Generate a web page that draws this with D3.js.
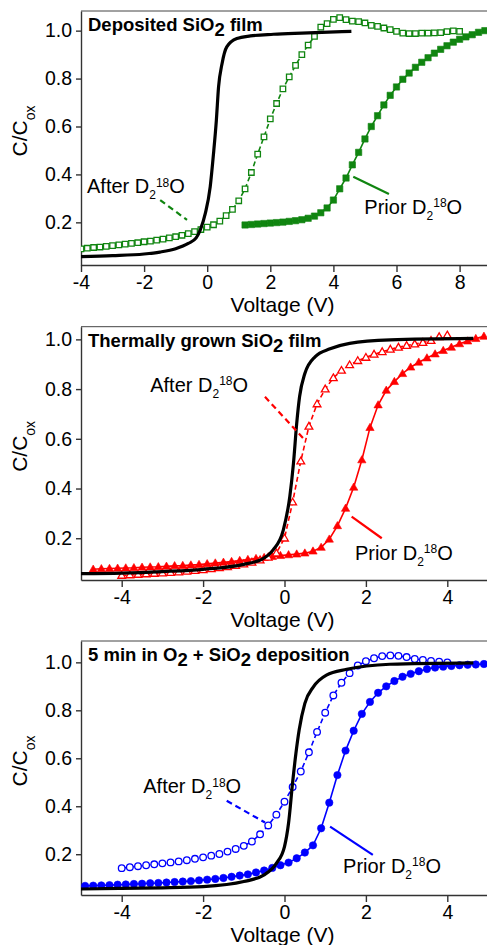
<!DOCTYPE html>
<html><head><meta charset="utf-8">
<script src="https://cdn.jsdelivr.net/npm/d3@7"></script>
<style>
body{margin:0;background:#fff;}
svg{display:block;}
text{font-family:"Liberation Sans",Arial,Helvetica,sans-serif;fill:#000;}
</style>
</head><body><svg id="c" width="487" height="945"></svg>
<script>
// ---------------- DATA ----------------
// Panel 1: Deposited SiO2 film
const xTicks1 = [-4,-2,0,2,4,6,8];
const yTicks = [0.2,0.4,0.6,0.8,1.0];
const blackV1 = [-4,-3,-2,-1.5,-1,-0.6,-0.35,-0.22,-0.06,0.095,0.2,0.29,0.36,0.47,0.62,0.94,1.37,2.1,3,4.57];
const blackC1 = [0.057,0.061,0.068,0.076,0.09,0.112,0.135,0.168,0.237,0.348,0.487,0.626,0.765,0.862,0.932,0.967,0.978,0.985,0.99,0.997];
const afterV1 = [-4,-3.8,-3.6,-3.4,-3.2,-3,-2.8,-2.6,-2.4,-2.2,-2,-1.8,-1.6,-1.4,-1.2,-1,-0.8,-0.6,-0.4,-0.2,0,0.2,0.4,0.6,0.8,1,1.2,1.4,1.6,1.8,2,2.2,2.4,2.6,2.8,3,3.2,3.4,3.6,3.8,4,4.2,4.4,4.6,4.8,5,5.2,5.4,5.6,5.8,6,6.2,6.4,6.6,6.8,7,7.2,7.4,7.6,7.8,8];
const afterC1 = [0.089,0.092,0.095,0.097,0.1,0.103,0.106,0.109,0.112,0.115,0.119,0.122,0.126,0.13,0.135,0.14,0.146,0.153,0.161,0.17,0.18,0.19,0.205,0.228,0.254,0.29,0.34,0.408,0.485,0.557,0.632,0.696,0.757,0.807,0.855,0.9,0.94,0.976,1.015,1.029,1.047,1.054,1.046,1.04,1.038,1.032,1.022,1.018,1.011,1.004,0.997,0.99,0.988,0.988,0.99,0.99,0.991,0.992,0.996,0.999,0.997];
const priorV1 = [1.2,1.4,1.6,1.8,2,2.2,2.4,2.6,2.8,3,3.2,3.4,3.6,3.8,4,4.2,4.4,4.6,4.8,5,5.2,5.4,5.6,5.8,6,6.2,6.4,6.6,6.8,7,7.2,7.4,7.6,7.8,8,8.2,8.4,8.6,8.8];
const priorC1 = [0.189,0.191,0.193,0.195,0.197,0.199,0.201,0.204,0.207,0.211,0.217,0.226,0.24,0.26,0.293,0.34,0.385,0.44,0.492,0.548,0.6,0.645,0.69,0.73,0.765,0.797,0.823,0.847,0.868,0.887,0.906,0.922,0.937,0.952,0.964,0.974,0.983,0.993,1.0];

// Panel 2: Thermally grown SiO2 film
const xTicks23 = [-4,-2,0,2,4];
const blackV2 = [-5,-4,-3,-2,-1,-0.56,-0.28,-0.03,0.13,0.22,0.3,0.37,0.5,0.75,1.12,1.6,2.6,4.64];
const blackC2 = [0.058,0.06,0.066,0.075,0.095,0.115,0.153,0.233,0.367,0.501,0.662,0.769,0.863,0.93,0.962,0.984,0.998,1.004];
const afterV2 = [-4,-3.8,-3.6,-3.4,-3.2,-3,-2.8,-2.6,-2.4,-2.2,-2,-1.8,-1.6,-1.4,-1.2,-1,-0.8,-0.6,-0.4,-0.2,0,0.2,0.4,0.6,0.8,1,1.2,1.4,1.6,1.8,2,2.2,2.4,2.6,2.8,3,3.2,3.4,3.6,3.8,4];
const afterC2 = [0.05,0.052,0.054,0.056,0.058,0.06,0.062,0.064,0.067,0.07,0.073,0.077,0.081,0.085,0.09,0.096,0.103,0.112,0.123,0.14,0.2,0.345,0.51,0.65,0.74,0.8,0.845,0.875,0.897,0.914,0.927,0.94,0.95,0.96,0.968,0.975,0.981,0.987,0.995,1.01,1.017];
const priorV2 = [-4.7,-4.5,-4.3,-4.1,-3.9,-3.7,-3.5,-3.3,-3.1,-2.9,-2.7,-2.5,-2.3,-2.1,-1.9,-1.7,-1.5,-1.3,-1.1,-0.9,-0.7,-0.5,-0.3,-0.1,0.1,0.3,0.5,0.7,0.9,1.1,1.3,1.5,1.7,1.9,2.1,2.3,2.5,2.7,2.9,3.1,3.3,3.5,3.7,3.9,4.1,4.3,4.5,4.7,4.9];
const priorC2 = [0.075,0.077,0.078,0.079,0.08,0.081,0.083,0.084,0.085,0.087,0.089,0.09,0.092,0.094,0.097,0.1,0.103,0.106,0.11,0.114,0.118,0.122,0.126,0.13,0.133,0.136,0.14,0.148,0.163,0.196,0.25,0.32,0.405,0.515,0.645,0.736,0.795,0.83,0.862,0.888,0.908,0.925,0.941,0.955,0.968,0.982,0.993,1.003,1.012];

// Panel 3: 5 min in O2 + SiO2 deposition
const blackV3 = [-5,-4,-3,-2,-1,-0.5,-0.2,0,0.1,0.2,0.28,0.36,0.5,0.71,1.03,1.53,2.59,4.64];
const blackC3 = [0.055,0.058,0.06,0.065,0.086,0.114,0.162,0.232,0.33,0.5,0.62,0.718,0.829,0.898,0.947,0.971,0.992,0.998];
const afterV3 = [-4,-3.8,-3.6,-3.4,-3.2,-3,-2.8,-2.6,-2.4,-2.2,-2,-1.8,-1.6,-1.4,-1.2,-1,-0.8,-0.6,-0.4,-0.2,0,0.2,0.4,0.6,0.8,1,1.2,1.4,1.6,1.8,2,2.2,2.4,2.6,2.8,3,3.2,3.4,3.6,3.8,4];
const afterC3 = [0.142,0.146,0.15,0.154,0.158,0.162,0.166,0.17,0.175,0.181,0.187,0.194,0.201,0.211,0.222,0.235,0.253,0.283,0.32,0.365,0.419,0.48,0.545,0.625,0.71,0.79,0.862,0.915,0.955,0.987,1.005,1.017,1.026,1.029,1.027,1.022,1.014,1.01,1.006,1.003,1.0];
const priorV3 = [-4.9,-4.7,-4.5,-4.3,-4.1,-3.9,-3.7,-3.5,-3.3,-3.1,-2.9,-2.7,-2.5,-2.3,-2.1,-1.9,-1.7,-1.5,-1.3,-1.1,-0.9,-0.7,-0.5,-0.3,-0.1,0.1,0.3,0.5,0.7,0.9,1.1,1.3,1.5,1.7,1.9,2.1,2.3,2.5,2.7,2.9,3.1,3.3,3.5,3.7,3.9,4.1,4.3,4.5,4.7,4.9];
const priorC3 = [0.068,0.069,0.07,0.071,0.073,0.074,0.076,0.077,0.079,0.08,0.082,0.084,0.086,0.088,0.091,0.094,0.097,0.101,0.106,0.111,0.116,0.124,0.132,0.143,0.154,0.165,0.183,0.207,0.237,0.308,0.415,0.53,0.632,0.715,0.785,0.835,0.873,0.9,0.922,0.94,0.952,0.963,0.972,0.978,0.982,0.985,0.988,0.99,0.991,0.993];

// Text
const titles = [
  [["Deposited SiO",0],["2",1],[" film",0]],
  [["Thermally grown SiO",0],["2",1],[" film",0]],
  [["5 min in O",0],["2",1],[" + SiO",0],["2",1],[" deposition",0]]
];
const xLabel = "Voltage (V)";
// annotation anchors in data units: [textV, textC, lineV0, lineC0, lineV1, lineC1]
const annAfter = [[-3.81,0.322,-1.49,0.293,-0.64,0.21],[-3.30,0.789,-0.48,0.769,0.50,0.595],[-3.47,0.455,-1.42,0.423,-0.48,0.332]];
const annPrior = [[4.98,0.235,4.63,0.39,5.76,0.318],[1.73,0.113,1.65,0.287,2.39,0.2],[1.44,0.122,1.12,0.315,2.17,0.197]];

// ---------------- LAYOUT ----------------
const L = 81, R = 488;
const panels = [
  {top:11, bottom:265, xd:[-4,8.9], yd:[0.022,1.082], xt:xTicks1, color:"#108510", mk:"square",
   black:[blackV1,blackC1], after:[afterV1,afterC1], prior:[priorV1,priorC1]},
  {top:326.7, bottom:580, xd:[-5,5], yd:[0.032,1.051], xt:xTicks23, color:"#ff0000", mk:"triangle",
   black:[blackV2,blackC2], after:[afterV2,afterC2], prior:[priorV2,priorC2]},
  {top:641, bottom:895, xd:[-5,5], yd:[0.030,1.089], xt:xTicks23, color:"#0000ff", mk:"circle",
   black:[blackV3,blackC3], after:[afterV3,afterC3], prior:[priorV3,priorC3]}
];

const svg = d3.select("#c");
const AX = "#333";

function zip(a,b){ return a.map((v,i)=>[v,b[i]]); }

function annText(g, x, y, word){
  const t = g.append("text").attr("x",x).attr("y",y).style("font-size","20px");
  t.append("tspan").text(word + " D");
  t.append("tspan").attr("dy",6).style("font-size","12px").text("2");
  t.append("tspan").attr("dy",-12.5).style("font-size","12px").text("18");
  t.append("tspan").attr("dy",6.5).text("O");
}

panels.forEach((p, i) => {
  const g = svg.append("g");
  const x = d3.scaleLinear().domain(p.xd).range([L, R]);
  const y = d3.scaleLinear().domain(p.yd).range([p.bottom, p.top]);

  const cid = "clip" + i;
  svg.append("defs").append("clipPath").attr("id", cid)
    .append("rect").attr("x", L).attr("y", p.top).attr("width", R - L).attr("height", p.bottom - p.top);

  // frame top line
  g.append("line").attr("x1",L).attr("x2",R).attr("y1",p.top).attr("y2",p.top)
    .attr("stroke","#444").attr("stroke-width",1);

  // axes
  const xa = g.append("g").attr("transform",`translate(0,${p.bottom})`)
    .call(d3.axisBottom(x).tickValues(p.xt).tickSize(7).tickPadding(3).tickSizeOuter(0).tickFormat(d => String(d)));
  const ya = g.append("g").attr("transform",`translate(${L},0)`)
    .call(d3.axisLeft(y).tickValues(yTicks).tickSize(5).tickPadding(4).tickSizeOuter(0).tickFormat(d3.format(".1f")));
  [xa, ya].forEach(a => {
    a.select(".domain").attr("stroke", AX).attr("stroke-width", 1.4);
    a.selectAll(".tick line").attr("stroke", AX).attr("stroke-width", 1.4);
    a.selectAll(".tick text").style("font-size","19.5px").attr("fill","#000")
      .style("font-family",'"Liberation Sans",Arial,sans-serif');
  });

  // axis labels
  g.append("text").attr("x",(L+R)/2 - 2).attr("y",p.bottom + 46.5).attr("text-anchor","middle")
    .style("font-size","21px").text(xLabel);
  const yl = g.append("text").attr("text-anchor","middle")
    .attr("transform",`translate(27,${(p.top+p.bottom)/2 - 7}) rotate(-90)`)
    .style("font-size","21px");
  yl.append("tspan").text("C/C");
  yl.append("tspan").attr("dy",8).style("font-size","14px").text("ox");

  // title
  const tt = g.append("text").attr("x", L + 7).attr("y", p.top + 20)
    .style("font-size","18.5px").style("font-weight","bold");
  let prev = 0;
  titles[i].forEach(([s, sub]) => {
    const dy = sub ? 5 : (prev ? -5 : 0);
    tt.append("tspan").attr("dy", dy).text(s);
    prev = sub;
  });

  // data
  const plot = g.append("g").attr("clip-path",`url(#${cid})`);
  const line = d3.line().x(d => x(d[0])).y(d => y(d[1]));
  const after = zip(p.after[0], p.after[1]);
  const prior = zip(p.prior[0], p.prior[1]);
  const black = zip(p.black[0], p.black[1]);

  plot.append("path").datum(prior).attr("d", line).attr("fill","none")
    .attr("stroke", p.color).attr("stroke-width", 1.6);
  plot.append("path").datum(after).attr("d", line).attr("fill","none")
    .attr("stroke", p.color).attr("stroke-width", 1.6).attr("stroke-dasharray","5,3");

  function markers(data, open){
    const sel = plot.append("g").selectAll("x").data(data).enter();
    if (p.mk === "circle") {
      sel.append("circle").attr("cx", d => x(d[0])).attr("cy", d => y(d[1]))
        .attr("r", open ? 3.3 : 3.7)
        .attr("fill", open ? "#fff" : p.color).attr("stroke", p.color).attr("stroke-width", open ? 1.3 : 0.6);
    } else {
      const sym = d3.symbol().type(p.mk === "square" ? d3.symbolSquare : d3.symbolTriangle)
        .size(p.mk === "square" ? (open ? 30 : 40) : (open ? 26 : 30));
      sel.append("path").attr("d", sym)
        .attr("transform", d => `translate(${x(d[0])},${y(d[1]) + (p.mk === "triangle" ? 0.5 : 0)})`)
        .attr("fill", open ? "#fff" : p.color).attr("stroke", p.color).attr("stroke-width", open ? 1.3 : 0.6);
    }
  }
  markers(prior, false);
  markers(after, true);

  plot.append("path").datum(black).attr("d", line.curve(d3.curveMonotoneX)).attr("fill","none")
    .attr("stroke","#000").attr("stroke-width", 3.2).attr("stroke-linejoin","round");

  // annotations
  const aa = annAfter[i], ap = annPrior[i];
  g.append("line").attr("x1",x(aa[2])).attr("y1",y(aa[3])).attr("x2",x(aa[4])).attr("y2",y(aa[5]))
    .attr("stroke",p.color).attr("stroke-width",2.2).attr("stroke-dasharray","6,4");
  g.append("line").attr("x1",x(ap[2])).attr("y1",y(ap[3])).attr("x2",x(ap[4])).attr("y2",y(ap[5]))
    .attr("stroke",p.color).attr("stroke-width",2.2);
  annText(g, x(aa[0]), y(aa[1]), "After");
  annText(g, x(ap[0]), y(ap[1]), "Prior");
});
</script></body></html>
